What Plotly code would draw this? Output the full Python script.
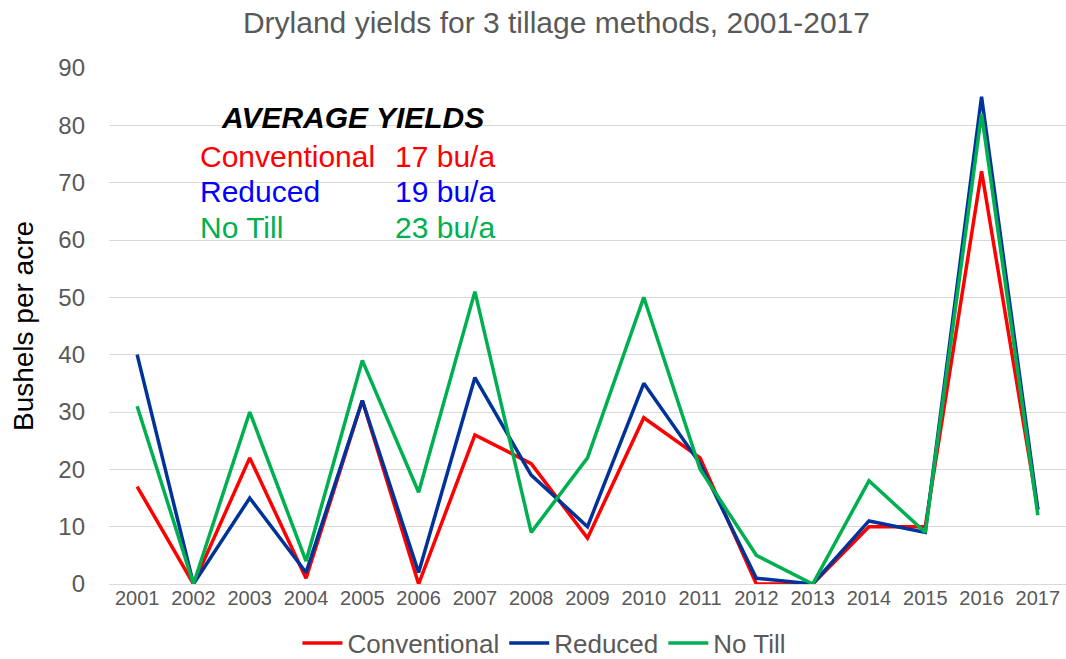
import plotly.graph_objects as go

years = [str(y) for y in range(2001, 2018)]
conventional = [17, 0, 22, 1, 32, 0, 26, 21, 8, 29, 22, 0, 0, 10, 10, 72, 13]
reduced = [40, 0, 15, 2, 32, 2, 36, 19, 10, 35, 21, 1, 0, 11, 9, 85, 13]
no_till = [31, 0, 30, 4, 39, 16, 51, 9, 22, 50, 20, 5, 0, 18, 9, 82, 12]

avg_labels = ["Conventional", "Reduced", "No Till"]
avg_values = ["17 bu/a", "19 bu/a", "23 bu/a"]
text_colors = ["#FF0000", "#0000FF", "#00B050"]

FONT = "Liberation Sans, Arial, sans-serif"

fig = go.Figure()
fig.add_trace(go.Scatter(x=years, y=conventional, mode="lines", name="Conventional",
                         line=dict(color="#FF0000", width=3.5)))
fig.add_trace(go.Scatter(x=years, y=reduced, mode="lines", name="Reduced",
                         line=dict(color="#003399", width=3.5)))
fig.add_trace(go.Scatter(x=years, y=no_till, mode="lines", name="No Till",
                         line=dict(color="#00B050", width=3.5)))

fig.update_layout(
    width=1066, height=659,
    paper_bgcolor="white", plot_bgcolor="white",
    margin=dict(l=109, r=0, t=68, b=75, autoexpand=False),
    font=dict(family=FONT, color="#595959"),
    title=dict(text="Dryland yields for 3 tillage methods, 2001-2017",
               x=0.522, xanchor="center", y=0.966, yanchor="middle",
               font=dict(size=30, color="#595959")),
    legend=dict(orientation="h", x=0.455, xanchor="center", yref="container",
                y=0.024, yanchor="middle",
                font=dict(size=26, color="#595959"), itemwidth=40,
                tracegroupgap=0),
    xaxis=dict(type="category", range=[-0.5, 16.5], showgrid=False, showline=False,
               ticks="", automargin=False, tickfont=dict(size=20, color="#595959")),
    yaxis=dict(range=[0, 90], dtick=10, showgrid=True, gridcolor="#D9D9D9",
               gridwidth=1.3, zeroline=True, zerolinecolor="#D9D9D9", zerolinewidth=1.3,
               showline=False, ticks="", ticklabelstandoff=23, automargin=False,
               tickfont=dict(size=24, color="#595959"),
               title=dict(text="Bushels per acre", standoff=16,
                          font=dict(size=28, color="black"))),
)

# average-yields box
fig.add_annotation(x=0.115, y=81.4, xref="paper", yref="y", xanchor="left", yanchor="middle",
                   text="<b><i>AVERAGE YIELDS</i></b>", showarrow=False,
                   font=dict(size=30, color="black", family=FONT))
rows_y = [74.5, 68.4, 62.1]
for lab, val, col, yy in zip(avg_labels, avg_values, text_colors, rows_y):
    fig.add_annotation(x=0.093, y=yy, xref="paper", yref="y", xanchor="left", yanchor="middle",
                       text=lab, showarrow=False, font=dict(size=30, color=col, family=FONT))
    fig.add_annotation(x=0.405, y=yy, xref="paper", yref="y", xanchor="right", yanchor="middle",
                       text=val, showarrow=False, font=dict(size=30, color=col, family=FONT))

# the page's default body margin would shift the fixed-size figure
fig.write_html("out.html", config={"displayModeBar": False},
               post_script="document.body.style.margin='0';")
